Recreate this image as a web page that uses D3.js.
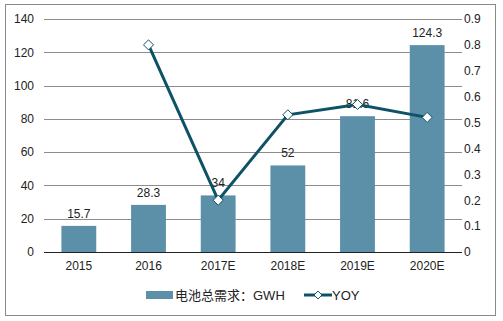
<!DOCTYPE html>
<html><head><meta charset="utf-8">
<script src="https://cdn.jsdelivr.net/npm/d3@7"></script>
<style>body{margin:0;background:#fff}svg{display:block}text{font-family:"Liberation Sans",Arial,"Noto Sans CJK SC",sans-serif;font-size:12px;fill:#222}</style>
</head><body><svg id="c" width="503" height="321"></svg>
<script>
const categories = ["2015","2016","2017E","2018E","2019E","2020E"];
const demand = [15.7,28.3,34,52,81.6,124.3];
const yoy = [null,0.8,0.2,0.53,0.57,0.52];
const leftTicks = [0,20,40,60,80,100,120,140];
const rightTicks = [0,0.1,0.2,0.3,0.4,0.5,0.6,0.7,0.8,0.9];
const seriesNames = ["电池总需求：GWH","YOY"];

const svg = d3.select("#c");
const L=44,R=462,T=19,B=252;
const barColor="#5b90a8", lineColor="#0d5266";

svg.append("rect").attr("x",5.5).attr("y",4.5).attr("width",490).attr("height",311)
  .attr("fill","#fff").attr("stroke","#8a8a8a").attr("stroke-width",1);

const x = d3.scaleBand().domain(categories).range([L,R]).paddingInner(0.5).paddingOuter(0.25);
const y = d3.scaleLinear().domain([0,140]).range([B,T]);
const y2 = d3.scaleLinear().domain([0,0.9]).range([B,T]);

svg.append("g").selectAll("line").data(leftTicks.filter(d=>d>0)).join("line")
  .attr("x1",L).attr("x2",R).attr("y1",d=>Math.round(y(d))+0.5).attr("y2",d=>Math.round(y(d))+0.5)
  .attr("stroke","#8c8c8c").attr("stroke-width",1);

const ga = svg.append("g").attr("transform",`translate(${L},0)`)
  .call(d3.axisLeft(y).tickValues(leftTicks).tickSize(0).tickPadding(10));
ga.select(".domain").remove();
ga.selectAll("text").style("font-size","12px").attr("fill","#222");

const gr = svg.append("g").attr("transform",`translate(${R},0)`)
  .call(d3.axisRight(y2).tickValues(rightTicks).tickSize(0).tickPadding(2).tickFormat(d=>d===0?"0":d3.format(".1f")(d)));
gr.select(".domain").remove();
gr.selectAll("text").style("font-size","12px").attr("fill","#222");

svg.append("g").selectAll("rect").data(demand).join("rect")
  .attr("x",(d,i)=>x(categories[i])).attr("width",x.bandwidth())
  .attr("y",d=>y(d)).attr("height",d=>B-y(d)).attr("fill",barColor);

svg.append("line").attr("x1",L).attr("x2",R).attr("y1",B+0.5).attr("y2",B+0.5).attr("stroke","#222").attr("stroke-width",1.2);

const gx = svg.append("g").attr("transform",`translate(0,${B})`)
  .call(d3.axisBottom(x).tickSize(0).tickPadding(9));
gx.select(".domain").remove();
gx.selectAll("text").style("font-size","12px").attr("fill","#222");

svg.append("g").selectAll("text").data(demand).join("text")
  .attr("x",(d,i)=>x(categories[i])+x.bandwidth()/2).attr("y",d=>y(d)-8)
  .attr("text-anchor","middle").text(d=>d);

const pts = yoy.map((v,i)=>({c:categories[i],v})).filter(d=>d.v!=null);
const line = d3.line().x(d=>x(d.c)+x.bandwidth()/2).y(d=>y2(d.v));
svg.append("path").datum(pts).attr("d",line).attr("fill","none").attr("stroke",lineColor).attr("stroke-width",3);
svg.append("g").selectAll("path").data(pts).join("path")
  .attr("transform",d=>`translate(${x(d.c)+x.bandwidth()/2},${y2(d.v)})`)
  .attr("d",d3.symbol(d3.symbolDiamond2,64)())
  .attr("fill","#fff").attr("stroke",lineColor).attr("stroke-width",1);

const lg = svg.append("g");
lg.append("rect").attr("x",146).attr("y",291).attr("width",27).attr("height",8).attr("fill",barColor);
lg.append("text").attr("x",175).attr("y",299.5).text(seriesNames[0]).style("font-size","13px");
lg.append("line").attr("x1",304).attr("x2",332).attr("y1",295).attr("y2",295).attr("stroke",lineColor).attr("stroke-width",3);
lg.append("path").attr("transform","translate(318,295)").attr("d",d3.symbol(d3.symbolDiamond2,40)())
  .attr("fill","#fff").attr("stroke",lineColor).attr("stroke-width",1);
lg.append("text").attr("x",332).attr("y",299.5).text(seriesNames[1]).style("font-size","13px");
</script></body></html>
